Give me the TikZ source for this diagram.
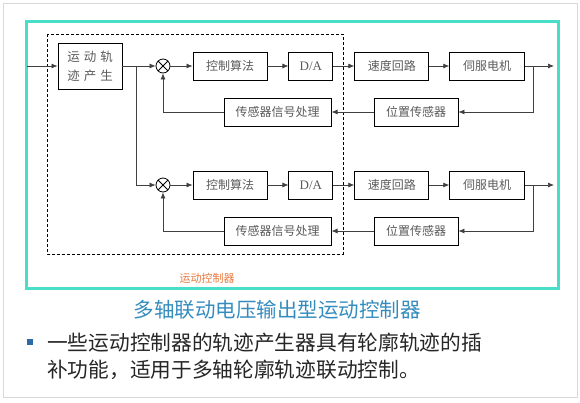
\documentclass[tikz,border=0pt]{standalone}
\usepackage{fontspec}
\setmainfont{Liberation Serif}
\newfontfamily\cjk{Noto Sans CJK SC}
\usetikzlibrary{positioning,arrows.meta}
\definecolor{tealframe}{RGB}{72,222,200}
\definecolor{titleblue}{RGB}{52,140,190}
\definecolor{orangelbl}{RGB}{232,120,60}
\definecolor{bulletblue}{RGB}{45,105,165}
\definecolor{boxtext}{RGB}{90,90,90}

\begin{document}
\begin{tikzpicture}[x=1pt,y=-1pt,
blk/.style={draw,line width=0.9pt,rectangle,minimum height=28pt,inner sep=0pt,
    text=boxtext,font=\cjk\fontsize{12}{14}\selectfont},
sum/.style={draw,line width=0.8pt,circle,minimum size=14pt,inner sep=0pt,
    path picture={\draw[line width=0.8pt] (path picture bounding box.south west) -- (path picture bounding box.north east)
    (path picture bounding box.north west) -- (path picture bounding box.south east);}},
arr/.style={draw=black!75,line width=0.7pt,-{Latex[length=6pt,width=5pt]}}]
\useasboundingbox (0,0) rectangle (580,402);
\draw[black!15,line width=0.8pt] (3,3) rectangle (577,397);
\draw[tealframe,line width=3pt] (26,21) rectangle (558,288);
\draw[dashed,dash pattern=on 3pt off 2pt,line width=0.9pt] (47,34) rectangle (343,254);

% trajectory generator
\node (traj) [blk,minimum width=64pt,minimum height=46pt,align=center,
    font=\cjk\fontsize{12.5}{19}\selectfont] at (90,66) {运\hspace{4pt}动\hspace{4pt}轨\\迹\hspace{4pt}产\hspace{4pt}生};

% axis 1
\node (sumA) [sum] at (163,66) {};
\node (ctrlA) [blk,minimum width=74pt] at (230,66) {控制算法};
\node (daA) [blk,minimum width=44pt,right=21pt of ctrlA,font=\fontsize{13}{15}\selectfont] {D/A};
\node (speedA) [blk,minimum width=74pt,right=21pt of daA] {速度回路};
\node (servoA) [blk,minimum width=75pt,right=20pt of speedA] {伺服电机};
\node (posA) [blk,minimum width=84pt] at (416,112) {位置传感器};
\node (sigA) [blk,minimum width=107pt,left=42pt of posA] {传感器信号处理};

% axis 2
\node (sumB) [sum] at (163,185) {};
\node (ctrlB) [blk,minimum width=74pt] at (230,185) {控制算法};
\node (daB) [blk,minimum width=44pt,right=21pt of ctrlB,font=\fontsize{13}{15}\selectfont] {D/A};
\node (speedB) [blk,minimum width=74pt,right=21pt of daB] {速度回路};
\node (servoB) [blk,minimum width=75pt,right=20pt of speedB] {伺服电机};
\node (posB) [blk,minimum width=84pt] at (416,231) {位置传感器};
\node (sigB) [blk,minimum width=107pt,left=42pt of posB] {传感器信号处理};

\coordinate (in) at (27,66);
\coordinate (branch) at (136,66);
\coordinate (outA) at (554,66);
\coordinate (tapA) at (533,66);
\coordinate (outB) at (554,185);
\coordinate (tapB) at (533,185);

\draw[arr] (in) -- (traj);
\draw[arr] (traj) -- (sumA);
\draw[arr] (branch) |- (sumB);
\draw[arr] (sumA) -- (ctrlA);
\draw[arr] (ctrlA) -- (daA);
\draw[arr] (daA) -- (speedA);
\draw[arr] (speedA) -- (servoA);
\draw[arr] (servoA) -- (outA);
\draw[arr] (tapA) |- (posA);
\draw[arr] (posA) -- (sigA);
\draw[arr] (sigA) -| (sumA);
\draw[arr] (sumB) -- (ctrlB);
\draw[arr] (ctrlB) -- (daB);
\draw[arr] (daB) -- (speedB);
\draw[arr] (speedB) -- (servoB);
\draw[arr] (servoB) -- (outB);
\draw[arr] (tapB) |- (posB);
\draw[arr] (posB) -- (sigB);
\draw[arr] (sigB) -| (sumB);

\node (ctrllbl) [text=orangelbl,font=\cjk\fontsize{11}{13}\selectfont] at (207,278) {运动控制器};
\node (title) [text=titleblue,font=\cjk\fontsize{20.5}{24}\selectfont] at (277,310) {多轴联动电压输出型运动控制器};
\node (bullet) [fill=bulletblue,minimum size=6pt,inner sep=0pt] at (30,342) {};
\node (lineA) [anchor=west,inner sep=0pt,text=black!85,font=\cjk\fontsize{20.7}{24}\selectfont] at (47,343) {一些运动控制器的轨迹产生器具有轮廓轨迹的插};
\node (lineB) [anchor=west,inner sep=0pt,text=black!85,font=\cjk\fontsize{20.7}{24}\selectfont] at (47,370) {补功能，适用于多轴轮廓轨迹联动控制。};
\end{tikzpicture}
\end{document}
